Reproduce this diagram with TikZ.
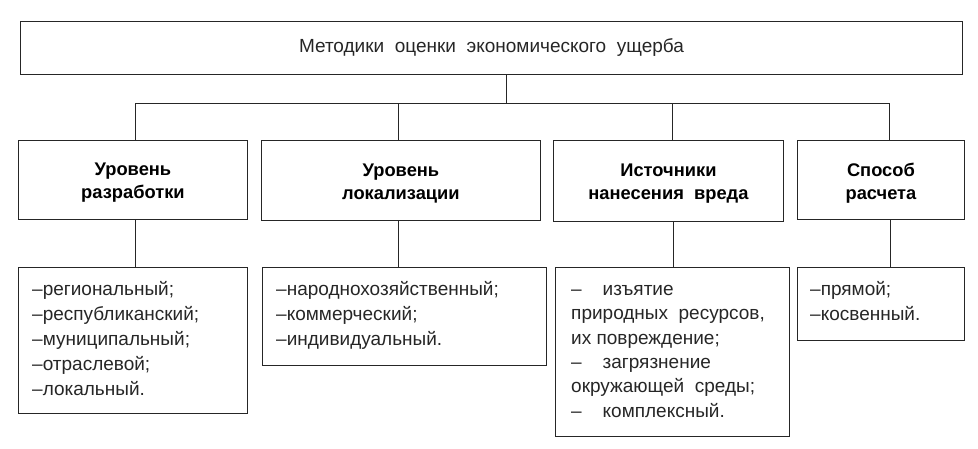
\documentclass[tikz,border=0pt]{standalone}
\usepackage{fontspec}
\setmainfont{Liberation Sans}
\begin{document}
\begin{tikzpicture}[x=1pt,y=-1pt,
  box/.style={draw=black!85, line width=0.9pt, inner sep=0pt, anchor=north west},
  head/.style={font=\fontsize{18.3}{23}\selectfont\bfseries, align=center, inner sep=0pt},
  list/.style={font=\fontsize{19}{25}\selectfont, align=left, inner sep=0pt, anchor=north west, text=black!85},
  conn/.style={draw=black!85, line width=0.9pt}]
\useasboundingbox (0,0) rectangle (978,449);
% top
\node[box, minimum width=942pt, minimum height=53pt] (top) at (20,21) {};
\node[font=\fontsize{19}{23}\selectfont, inner sep=0pt, text=black!85] (toptext) at (top.center) {Методики\ \ оценки\ \ экономического\ \ ущерба};
% headers
\node[box, minimum width=229pt, minimum height=79pt] (h1) at (18,140) {};
\node[box, minimum width=279pt, minimum height=80pt] (h2) at (261,140) {};
\node[box, minimum width=230pt, minimum height=81pt] (h3) at (553,140) {};
\node[box, minimum width=167pt, minimum height=79pt] (h4) at (797,140) {};
\node[head] (t1) at ([yshift=-3pt]h1.center) {Уровень\\разработки};
\node[head] (t2) at ([yshift=-3pt]h2.center) {Уровень\\локализации};
\node[head] (t3) at ([yshift=-3pt]h3.center) {Источники\\нанесения\ \ вреда};
\node[head] (t4) at ([yshift=-3pt]h4.center) {Способ\\расчета};
% lists
\node[box, minimum width=229pt, minimum height=146pt] (l1) at (18,267) {};
\node[box, minimum width=284pt, minimum height=98pt] (l2) at (262,267) {};
\node[box, minimum width=234pt, minimum height=169pt] (l3) at (555,267) {};
\node[box, minimum width=167pt, minimum height=73pt] (l4) at (797,267) {};
\node[list] (x1) at (32,281) {\rule{0pt}{14pt}–региональный;\\–республиканский;\\–муниципальный;\\–отраслевой;\\–локальный.};
\node[list] (x2) at (276,281) {\rule{0pt}{14pt}–народнохозяйственный;\\–коммерческий;\\–индивидуальный.};
\node[list, font=\fontsize{19}{24.4}\selectfont] (x3) at (571,281) {\rule{0pt}{14pt}–\hspace{1.1em}изъятие\\природных\ \ ресурсов,\\их повреждение;\\–\hspace{1.1em}загрязнение\\окружающей\ \ среды;\\–\hspace{1.1em}комплексный.};
\node[list] (x4) at (810,281) {\rule{0pt}{14pt}–прямой;\\–косвенный.};
% connectors
\coordinate (bus) at (0,103);
\draw[conn] ([xshift=15pt]top.south) -- ([xshift=15pt]top.south |- bus);
\draw[conn] ([xshift=2.5pt]h1.north) -- ([xshift=2.5pt]h1.north |- bus) -- ([xshift=8.5pt]h4.north |- bus) -- ([xshift=8.5pt]h4.north);
\draw[conn] ([xshift=-2.5pt]h2.north) -- ([xshift=-2.5pt]h2.north |- bus);
\draw[conn] ([xshift=4pt]h3.north) -- ([xshift=4pt]h3.north |- bus);
\draw[conn] ([xshift=2.5pt]h1.south) -- ([xshift=2.5pt]h1.south |- l1.north);
\draw[conn] ([xshift=-2.5pt]h2.south) -- ([xshift=-2.5pt]h2.south |- l2.north);
\draw[conn] ([xshift=5pt]h3.south) -- ([xshift=5pt]h3.south |- l3.north);
\draw[conn] ([xshift=9pt]h4.south) -- ([xshift=9pt]h4.south |- l4.north);
\end{tikzpicture}
\end{document}
